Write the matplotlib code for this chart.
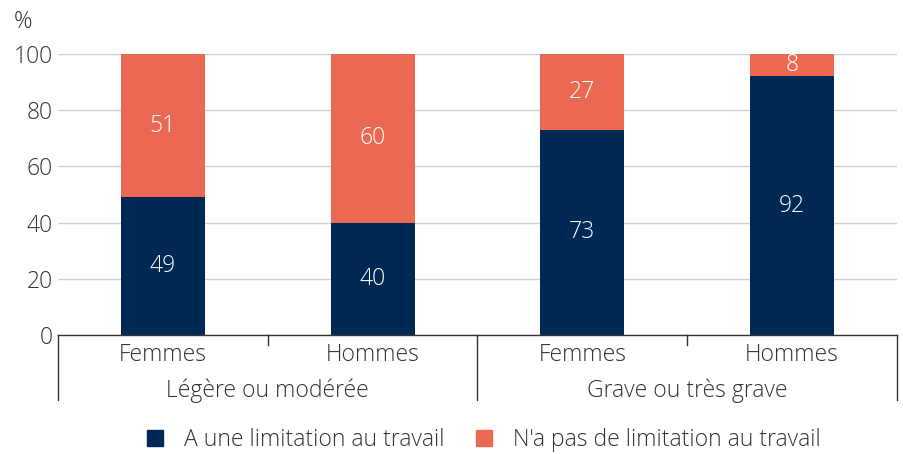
import matplotlib
matplotlib.use("Agg")
import matplotlib.pyplot as plt
from matplotlib.lines import Line2D
from matplotlib.patches import Patch
import matplotlib.transforms as mtransforms

plt.rcParams['font.family'] = ['Open Sans', 'DejaVu Sans']
plt.rcParams['font.weight'] = 300

sub_labels = ["Femmes", "Hommes", "Femmes", "Hommes"]
groups = ["Légère ou modérée", "Grave ou très grave"]
series_names = ["A une limitation au travail", "N'a pas de limitation au travail"]
limitation = [49, 40, 73, 92]
no_limitation = [51, 60, 27, 8]

navy = "#002855"
coral = "#EB6852"
text_color = "#333333"
fs = 16.5

fig = plt.figure(figsize=(9.04, 4.54), dpi=100)
ax = fig.add_axes([58/904, 1-335/454, (897-58)/904, (335-54)/454])

x = list(range(len(sub_labels)))
w = 0.4
ax.bar(x, limitation, width=w, color=navy, zorder=3)
ax.bar(x, no_limitation, width=w, bottom=limitation, color=coral, zorder=3)

for xi, v in zip(x, limitation):
    ax.text(xi, v/2, str(v), ha='center', va='center', color='white', fontsize=fs, zorder=4)
for xi, v, b in zip(x, no_limitation, limitation):
    ax.text(xi, b + v/2, str(v), ha='center', va='center', color='white', fontsize=fs, zorder=4)

ax.set_xlim(-0.5, len(x) - 0.5)
ax.set_ylim(0, 100)
ax.set_yticks([0, 20, 40, 60, 80, 100])
ax.tick_params(axis='y', length=0, pad=4, labelsize=fs, labelcolor=text_color)
ax.yaxis.grid(True, color='#d0d0d0', linewidth=1, zorder=0)
ax.set_axisbelow(True)
for s in ['top', 'right', 'left']:
    ax.spines[s].set_visible(False)
ax.spines['bottom'].set_color('#333333')
ax.spines['bottom'].set_linewidth(1)
ax.spines['bottom'].set_zorder(5)

ax.set_xticks(x)
ax.set_xticklabels(sub_labels)
ax.tick_params(axis='x', length=0, pad=6, labelsize=fs, labelcolor=text_color)

trans = mtransforms.blended_transform_factory(ax.transData, ax.transAxes)
def ay(px):
    return -px / 281.0

for xs in [-0.5, 1.5, 3.5]:
    ax.add_line(Line2D([xs, xs], [0, ay(65)], transform=trans, color='#333333', linewidth=1, clip_on=False))
for xs in [0.5, 2.5]:
    ax.add_line(Line2D([xs, xs], [0, ay(10)], transform=trans, color='#333333', linewidth=1, clip_on=False))

for gi, g in enumerate(groups):
    ax.text(gi*2 + 0.5, ay(56), g, transform=trans, ha='center', va='center', fontsize=fs, color=text_color)

fig.text(14/904, 1-22/454, "%", fontsize=fs, color=text_color, ha='left', va='center')

handles = [Patch(facecolor=navy, edgecolor=navy), Patch(facecolor=coral, edgecolor=coral)]
fig.legend(handles, series_names, loc='center', bbox_to_anchor=(484/904, 1-440/454), ncol=2,
           frameon=False, fontsize=fs, handlelength=0.7, handleheight=0.7, handletextpad=0.9,
           columnspacing=1.4, labelcolor=text_color)

fig.savefig("out.png", dpi=100)
